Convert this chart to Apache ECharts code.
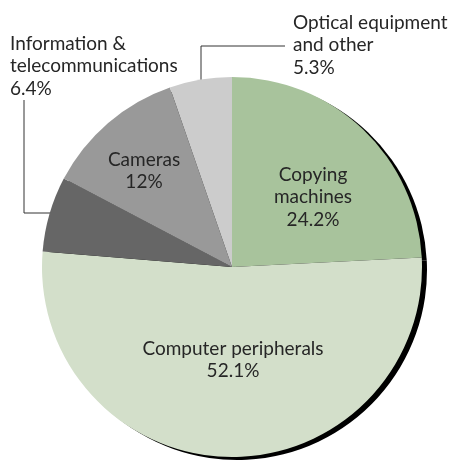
<!DOCTYPE html>
<html>
<head>
<meta charset="utf-8">
<script src="https://cdn.jsdelivr.net/npm/echarts@6/dist/echarts.min.js"></script>
<style>
html,body{margin:0;padding:0;background:#fff;}
#chart{width:449px;height:461px;}
</style>
</head>
<body>
<div id="chart"></div>
<script>
// Data
var categories = ["Copying\nmachines", "Computer peripherals", "Information &\ntelecommunications", "Cameras", "Optical equipment\nand other"];
var shares = [24.2, 52.1, 6.4, 12, 5.3];

// Styles / layout (not data)
var colors = ["#a8c39c", "#d3dfca", "#666666", "#999999", "#cccccc"];
var outsideIdx = {2: true, 4: true};
var labelPos = [
  {x: 313, y: 197, align: "center"},
  {x: 233, y: 360, align: "center"},
  {x: 10, y: 66, align: "left", line: [[67, 213], [24, 213], [24, 100]]},
  {x: 144, y: 171, align: "center"},
  {x: 293, y: 45, align: "left", line: [[201, 92], [201, 46], [285, 46]]}
];

var center = [232, 267];
var radius = 190;

var pieData = categories.map(function (c, i) {
  var item = {name: c, value: shares[i], itemStyle: {color: colors[i]}};
  if (outsideIdx[i]) {
    item.label = {position: "outside", align: "left"};
    item.labelLine = {show: true};
  }
  return item;
});
var shadowData = categories.map(function (c, i) {
  return {name: c, value: shares[i]};
});

var chart = echarts.init(document.getElementById("chart"), null, {renderer: "canvas"});
chart.setOption({
  animation: false,
  series: [
    {
      type: "pie",
      silent: true,
      center: [center[0] + 5, center[1] + 3],
      radius: radius,
      startAngle: 90,
      data: shadowData,
      itemStyle: {color: "#000"},
      label: {show: false},
      labelLine: {show: false},
      emphasis: {disabled: true}
    },
    {
      type: "pie",
      center: center,
      radius: radius,
      startAngle: 90,
      clockwise: true,
      avoidLabelOverlap: false,
      data: pieData,
      itemStyle: {borderWidth: 0},
      emphasis: {disabled: true},
      label: {
        show: true,
        position: "inside",
        fontFamily: "Lato",
        fontSize: 19,
        lineHeight: 22.5,
        color: "#262626",
        align: "center",
        formatter: function (p) { return p.name + "\n" + String(p.value) + "%"; }
      },
      labelLine: {
        show: false,
        smooth: false,
        length: 10,
        length2: 10,
        lineStyle: {color: "#333", width: 1}
      },
      labelLayout: function (params) {
        var lp = labelPos[params.dataIndex];
        var r = {x: lp.x, y: lp.y, align: lp.align, verticalAlign: "middle"};
        if (lp.line) r.labelLinePoints = lp.line;
        return r;
      }
    }
  ]
});
</script>
</body>
</html>
